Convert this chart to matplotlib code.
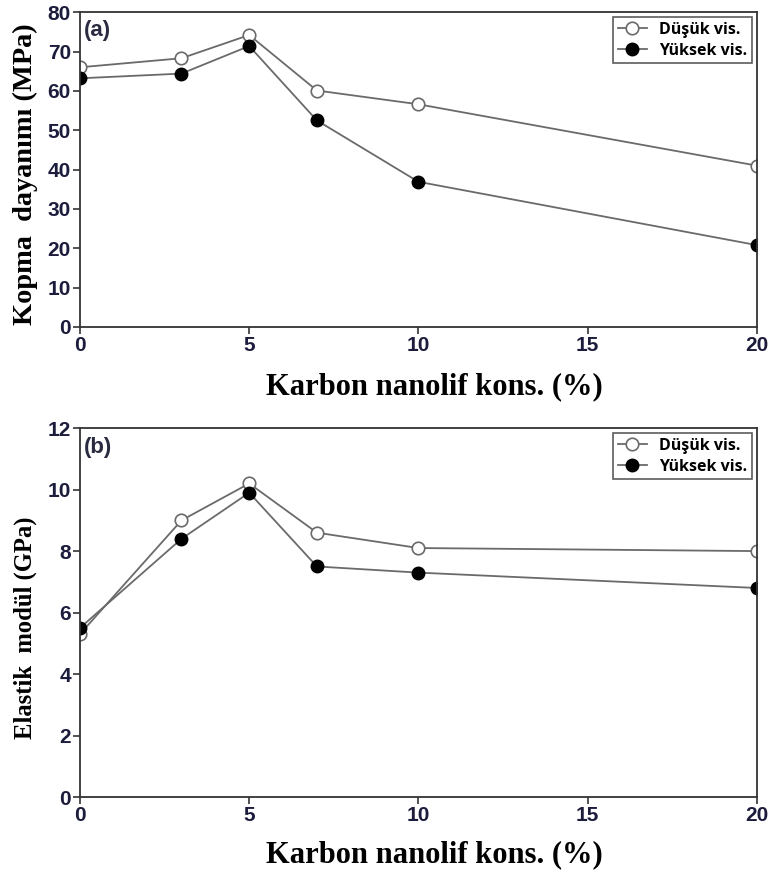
import matplotlib.pyplot as plt

# veriler
kons = [0, 3, 5, 7, 10, 20]
kopma_dusuk = [66.0, 68.3, 74.2, 60.1, 56.6, 41.0]
kopma_yuksek = [63.2, 64.4, 71.4, 52.5, 36.9, 20.8]
modul_dusuk = [5.3, 9.0, 10.2, 8.6, 8.1, 8.0]
modul_yuksek = [5.5, 8.4, 9.9, 7.5, 7.3, 6.8]

tick_color = '#1c1c3c'
line_color = '#6a6a6a'

fig = plt.figure(figsize=(7.76, 8.72), dpi=100)
ax1 = fig.add_axes([0.103, 0.625, 0.8725, 0.361])
ax2 = fig.add_axes([0.103, 0.086, 0.8725, 0.423])


def ciz(ax, dusuk, yuksek, ylim, yticks, ylabel, harf, xlab_y, ylab_size, ylab_y):
    ax.plot(kons, dusuk, '-o', color=line_color, lw=1.3, ms=9,
            mfc='white', mec=line_color, mew=1.2, label='Düşük vis.')
    ax.plot(kons, yuksek, '-o', color=line_color, lw=1.3, ms=9,
            mfc='black', mec='black', label='Yüksek vis.')
    ax.set_xlim(0, 20)
    ax.set_ylim(*ylim)
    ax.set_xticks([0, 5, 10, 15, 20])
    ax.set_yticks(yticks)
    for s in ax.spines.values():
        s.set_color('#333333')
        s.set_linewidth(1.3)
    ax.tick_params(direction='out', length=5, width=1.2, colors='#333333',
                   labelcolor=tick_color, labelsize=15, pad=1.5)
    for lb in ax.get_xticklabels() + ax.get_yticklabels():
        lb.set_fontweight('bold')
        lb.set_family('Liberation Sans')
    ax.set_xlabel('Karbon nanolif kons. (%)', family='Liberation Serif',
                  fontweight='bold', fontsize=22)
    ax.xaxis.label.set_va('center')
    ax.xaxis.set_label_coords(0.523, xlab_y)
    ax.set_ylabel(ylabel, family='Liberation Serif', fontweight='bold',
                  fontsize=ylab_size)
    ax.yaxis.label.set_va('center')
    ax.yaxis.set_label_coords(-0.08, ylab_y)
    ax.text(0.006, 0.975, harf, transform=ax.transAxes, ha='left', va='top',
            family='Liberation Sans', fontweight='bold', fontsize=16,
            color='#2a2a40')
    leg = ax.legend(loc='upper right', frameon=True,
                    fancybox=False, borderaxespad=0.3, handlelength=1.8,
                    borderpad=0.3, labelspacing=0.3,
                    prop={'family': 'Open Sans', 'weight': 'bold', 'size': 11.5})
    leg.get_frame().set_edgecolor('#333333')
    leg.get_frame().set_linewidth(1.2)


ciz(ax1, kopma_dusuk, kopma_yuksek, (0, 80), range(0, 81, 10),
    'Kopma  dayanımı (MPa)', '(a)', -0.19, 20.4, 0.486)
ciz(ax2, modul_dusuk, modul_yuksek, (0, 12), range(0, 13, 2),
    'Elastik  modül (GPa)', '(b)', -0.157, 17.7, 0.458)

plt.savefig('out.png', dpi=100)
